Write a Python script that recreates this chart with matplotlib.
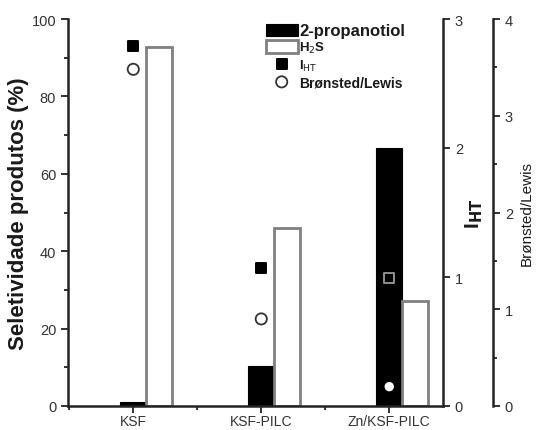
import numpy as np
import matplotlib.pyplot as plt
from matplotlib.ticker import FixedLocator, MultipleLocator

plt.rcParams['font.family'] = ['Liberation Sans', 'DejaVu Sans']

# dados
catalisadores = ["KSF", "KSF-PILC", "Zn/KSF-PILC"]
propanotiol = [1.0, 10.3, 66.7]       # %
h2s = [92.8, 46.0, 27.1]              # %
iht = [2.79, 1.07, 0.99]
bronsted_lewis = [3.48, 0.90, 0.20]

x = np.arange(len(catalisadores))
w = 0.2
txt = "#1a1a1a"

fig = plt.figure(figsize=(5.38, 4.31), dpi=100)
ax = fig.add_axes([68/538, 24/431, 375/538, 387/431])

b1 = ax.bar(x, propanotiol, w, color="black", edgecolor="black", linewidth=0.8,
            label="2-propanotiol", zorder=2)
b2 = ax.bar(x + w, h2s, w, color="white", edgecolor="#808080", linewidth=2,
            label="H$_2$S", zorder=2)

ax.set_xlim(-0.51, 2.42)
ax.set_ylim(0, 100)
ax.set_xticks(x)
ax.set_xticklabels(catalisadores)
ax.xaxis.set_minor_locator(FixedLocator([-0.5, 0.5, 1.5]))
ax.yaxis.set_major_locator(MultipleLocator(20))
ax.yaxis.set_minor_locator(MultipleLocator(10))
ax.set_ylabel("Seletividade produtos (%)", fontsize=16, fontweight="bold",
              color=txt, labelpad=2)

ax2 = ax.twinx()
ax2.set_ylim(0, 3)
ax2.yaxis.set_major_locator(MultipleLocator(1))
s1 = ax2.scatter(x, iht, marker="s", s=50, c="black",
                 edgecolors=["black", "black", "#909090"], linewidths=1.4,
                 label="I$_{\\mathrm{HT}}$", zorder=3)
ax2.set_ylabel("I$_{\\mathbf{HT}}$", fontsize=15, fontweight="bold", color=txt,
               labelpad=0)

ax3 = ax.twinx()
ax3.spines["right"].set_position(("axes", 425/375))
ax3.set_ylim(0, 4)
ax3.yaxis.set_major_locator(MultipleLocator(1))
ax3.yaxis.set_minor_locator(MultipleLocator(0.5))
s2 = ax3.scatter(x, bronsted_lewis, marker="o", s=65,
                 c="white", edgecolors=["#333333", "#333333", "black"],
                 linewidths=1.3, label="Brønsted/Lewis", zorder=3)
ax3.set_ylabel("Brønsted/Lewis", fontsize=11, color=txt, labelpad=5)

for a in (ax, ax2, ax3):
    a.tick_params(which="both", direction="out", width=1.3, colors="#222222",
                  labelsize=10.5, labelcolor="#333333")
    a.tick_params(which="major", length=5)
    a.tick_params(which="minor", length=3)
    for sp in a.spines.values():
        sp.set_linewidth(1.8)
        sp.set_color("#222222")
ax.tick_params(axis="x", labelsize=10, pad=1)

ax.spines["top"].set_visible(False)
ax2.spines["top"].set_visible(False)
ax3.spines["top"].set_visible(False)
ax2.spines["left"].set_visible(False)
ax3.spines["left"].set_visible(False)
ax3.spines["bottom"].set_visible(False)
ax2.spines["bottom"].set_visible(False)
ax.spines["right"].set_visible(False)

leg = ax.legend(handles=[b1, b2, s1, s2], loc="upper left",
                bbox_to_anchor=(0.51, 1.008), frameon=False,
                handlelength=2.4, handleheight=1.1, handletextpad=0.15,
                labelspacing=0.2, borderpad=0, fontsize=9.5)
sizes = [12, 9.5, 9.5, 10]
for t, sz in zip(leg.get_texts(), sizes):
    t.set_fontweight("bold")
    t.set_fontsize(sz)
    t.set_color(txt)

fig.savefig("out.png", dpi=100)
